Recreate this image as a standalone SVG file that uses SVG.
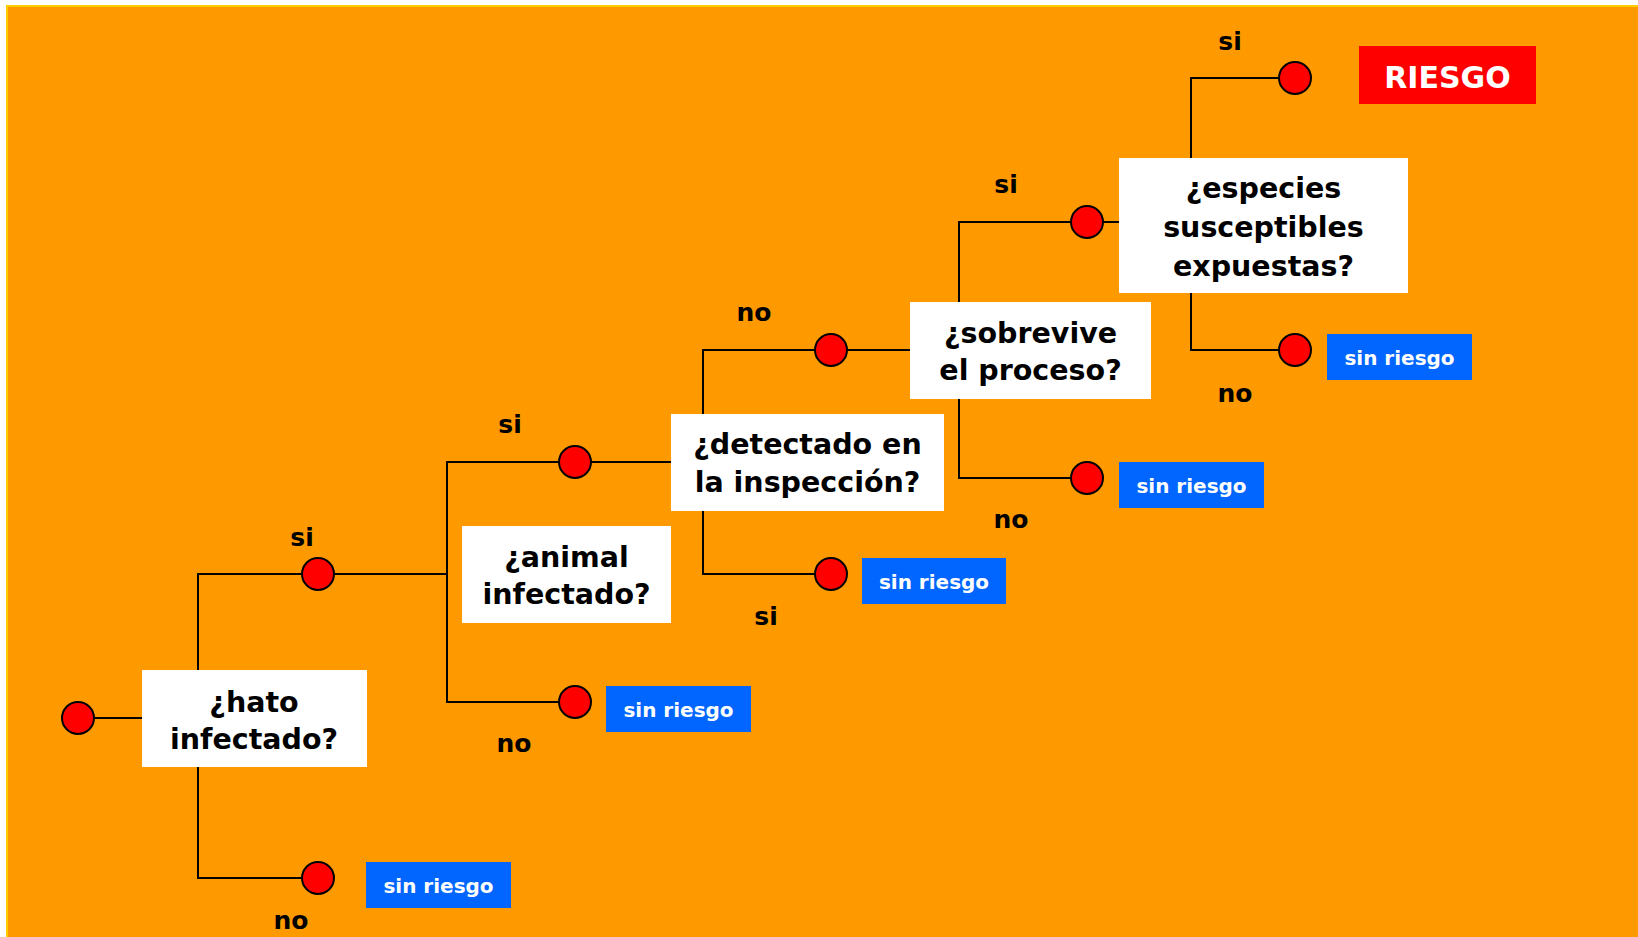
<svg xmlns="http://www.w3.org/2000/svg" width="1638" height="937" viewBox="0 0 1638 937">
<style>
.q{fill:#fff}
.qt{font-family:"DejaVu Sans",Verdana,sans-serif;font-weight:bold;font-size:28.5px;fill:#000;text-anchor:middle}
.sr{fill:#0066FF}
.srt{font-family:"DejaVu Sans",Verdana,sans-serif;font-weight:bold;font-size:20px;fill:#fff;text-anchor:middle}
.lb{font-family:"DejaVu Sans",Verdana,sans-serif;font-weight:bold;font-size:25px;fill:#000;text-anchor:middle}
.c{fill:#FF0000;stroke:#000;stroke-width:2}
.ln{fill:none;stroke:#000;stroke-width:2}
</style>
<rect x="0" y="0" width="1638" height="937" fill="#fff"/>
<rect x="7" y="6" width="1640" height="940" fill="#FF9900" stroke="#FFCC00" stroke-width="2"/>
<g id="connectors" class="ln">
<path d="M78,718 H142"/>
<path d="M318,574 H198 V878 H318"/>
<path d="M318,574 H447"/>
<path d="M575,462 H447 V702 H575"/>
<path d="M575,462 H671"/>
<path d="M831,350 H703 V574 H831"/>
<path d="M831,350 H910"/>
<path d="M1087,222 H959 V478 H1087"/>
<path d="M1087,222 H1119"/>
<path d="M1295,78 H1191 V350 H1295"/>
</g>
<g id="labels">
<text class="lb" x="302" y="546">si</text>
<text class="lb" x="291" y="929">no</text>
<text class="lb" x="510" y="433">si</text>
<text class="lb" x="514" y="752">no</text>
<text class="lb" x="754" y="321">no</text>
<text class="lb" x="766" y="625">si</text>
<text class="lb" x="1006" y="193">si</text>
<text class="lb" x="1011" y="528">no</text>
<text class="lb" x="1230" y="50">si</text>
<text class="lb" x="1235" y="402">no</text>
</g>
<g id="n-start"><circle class="c" cx="78" cy="718" r="16"/></g>
<g id="n-hato">
<rect class="q" x="142" y="670" width="225" height="97"/>
<text class="qt" x="254" y="712">¿hato</text>
<text class="qt" x="254" y="749">infectado?</text>
</g>
<g id="c-hato-si"><circle class="c" cx="318" cy="574" r="16"/></g>
<g id="c-hato-no"><circle class="c" cx="318" cy="878" r="16"/></g>
<g id="r-hato-no"><rect class="sr" x="366" y="862" width="145" height="46"/><text class="srt" x="438.5" y="893">sin riesgo</text></g>
<g id="n-animal">
<rect class="q" x="462" y="526" width="209" height="97"/>
<text class="qt" x="566.5" y="567">¿animal</text>
<text class="qt" x="566.5" y="604">infectado?</text>
</g>
<g id="c-animal-si"><circle class="c" cx="575" cy="462" r="16"/></g>
<g id="c-animal-no"><circle class="c" cx="575" cy="702" r="16"/></g>
<g id="r-animal-no"><rect class="sr" x="606" y="686" width="145" height="46"/><text class="srt" x="678.5" y="717">sin riesgo</text></g>
<g id="n-detectado">
<rect class="q" x="671" y="414" width="273" height="97"/>
<text class="qt" x="807.5" y="454">¿detectado en</text>
<text class="qt" x="807.5" y="492">la inspección?</text>
</g>
<g id="c-det-no"><circle class="c" cx="831" cy="350" r="16"/></g>
<g id="c-det-si"><circle class="c" cx="831" cy="574" r="16"/></g>
<g id="r-det-si"><rect class="sr" x="862" y="558" width="144" height="46"/><text class="srt" x="934" y="589">sin riesgo</text></g>
<g id="n-sobrevive">
<rect class="q" x="910" y="302" width="241" height="97"/>
<text class="qt" x="1030.5" y="343">¿sobrevive</text>
<text class="qt" x="1030.5" y="380">el proceso?</text>
</g>
<g id="c-sob-si"><circle class="c" cx="1087" cy="222" r="16"/></g>
<g id="c-sob-no"><circle class="c" cx="1087" cy="478" r="16"/></g>
<g id="r-sob-no"><rect class="sr" x="1119" y="462" width="145" height="46"/><text class="srt" x="1191.5" y="493">sin riesgo</text></g>
<g id="n-especies">
<rect class="q" x="1119" y="158" width="289" height="135"/>
<text class="qt" x="1263.5" y="198">¿especies</text>
<text class="qt" x="1263.5" y="237">susceptibles</text>
<text class="qt" x="1263.5" y="276">expuestas?</text>
</g>
<g id="c-esp-si"><circle class="c" cx="1295" cy="78" r="16"/></g>
<g id="c-esp-no"><circle class="c" cx="1295" cy="350" r="16"/></g>
<g id="r-esp-no"><rect class="sr" x="1327" y="334" width="145" height="46"/><text class="srt" x="1399.5" y="365">sin riesgo</text></g>
<g id="r-riesgo"><rect x="1359" y="46" width="177" height="58" fill="#FF0000"/><text x="1447.5" y="88" font-family="DejaVu Sans,Verdana,sans-serif" font-weight="bold" font-size="30" fill="#fff" text-anchor="middle">RIESGO</text></g>
</svg>
